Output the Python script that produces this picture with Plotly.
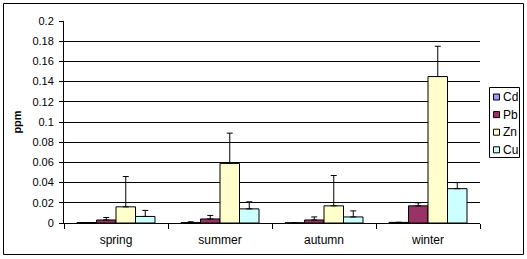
import plotly.graph_objects as go

seasons = ["spring", "summer", "autumn", "winter"]
metals = ["Cd", "Pb", "Zn", "Cu"]
colors = ["#9999FF", "#993366", "#FFFFCC", "#CCFFFF"]
values = {
    "Cd": [0.0005, 0.0004, 0.0002, 0.0006],
    "Pb": [0.003, 0.004, 0.003, 0.017],
    "Zn": [0.016, 0.059, 0.017, 0.145],
    "Cu": [0.0065, 0.014, 0.006, 0.034],
}
errors = {
    "Cd": [0.0, 0.0008, 0.0, 0.0],
    "Pb": [0.0025, 0.0035, 0.003, 0.003],
    "Zn": [0.030, 0.030, 0.030, 0.030],
    "Cu": [0.006, 0.007, 0.006, 0.006],
}

fig = go.Figure()
for m, c in zip(metals, colors):
    fig.add_trace(go.Bar(
        name=m, x=seasons, y=values[m],
        marker=dict(color=c, line=dict(color="black", width=1)),
        error_y=dict(type="data", array=errors[m], arrayminus=[0]*4,
                     symmetric=False, color="black", thickness=1, width=3),
        showlegend=False,
    ))

W, H = 527, 259
L, R, T, B = 64, W - 480, 21, H - 223
pw, ph = W - L - R, H - T - B

def px_x(p):
    return (p - L) / pw

def px_y(p):
    return (H - B - p) / ph

shapes = [dict(type="rect", xref="paper", yref="paper",
               x0=px_x(3.5), x1=px_x(523.5), y0=px_y(254.5), y1=px_y(3.5),
               line=dict(color="black", width=1), layer="above")]
# legend box
shapes.append(dict(type="rect", xref="paper", yref="paper",
                   x0=px_x(489.5), x1=px_x(519.5), y0=px_y(157.5), y1=px_y(87.5),
                   line=dict(color="black", width=1), fillcolor="white", layer="above"))
annotations = []
for i, (m, c) in enumerate(zip(metals, colors)):
    cy = 97 + i * 17.6
    shapes.append(dict(type="rect", xref="paper", yref="paper",
                       x0=px_x(493.5), x1=px_x(499.5), y0=px_y(cy + 3), y1=px_y(cy - 3),
                       line=dict(color="black", width=1), fillcolor=c, layer="above"))
    annotations.append(dict(xref="paper", yref="paper", x=px_x(500.5), y=px_y(cy),
                            xanchor="left", yanchor="middle", showarrow=False,
                            text=m, font=dict(size=12)))

fig.update_layout(
    width=W, height=H,
    margin=dict(l=L, r=R, t=T, b=B, pad=0),
    paper_bgcolor="white", plot_bgcolor="white",
    barmode="group", bargap=0.25, bargroupgap=0,
    font=dict(family="Liberation Sans, Arial", size=11, color="black"),
    showlegend=False,
    xaxis=dict(type="category", showline=True, linecolor="black", linewidth=1,
               ticks="outside", tickson="boundaries", ticklen=5, tickcolor="black",
               showgrid=False, tickfont=dict(size=12), ticklabelstandoff=6),
    yaxis=dict(range=[0, 0.2], dtick=0.02, tickformat="~g",
               showline=True, linecolor="black", linewidth=1,
               ticks="outside", ticklen=4, tickcolor="black",
               showgrid=True, gridcolor="black", gridwidth=1,
               zeroline=False, ticklabelstandoff=3,
               title=dict(text="<b>ppm</b>", font=dict(size=11), standoff=8),
               tickfont=dict(size=11)),
    shapes=shapes,
    annotations=annotations,
)

fig.write_html("out.html", config={"displayModeBar": False},
               post_script="document.body.style.margin='0';document.body.style.padding='0';")
